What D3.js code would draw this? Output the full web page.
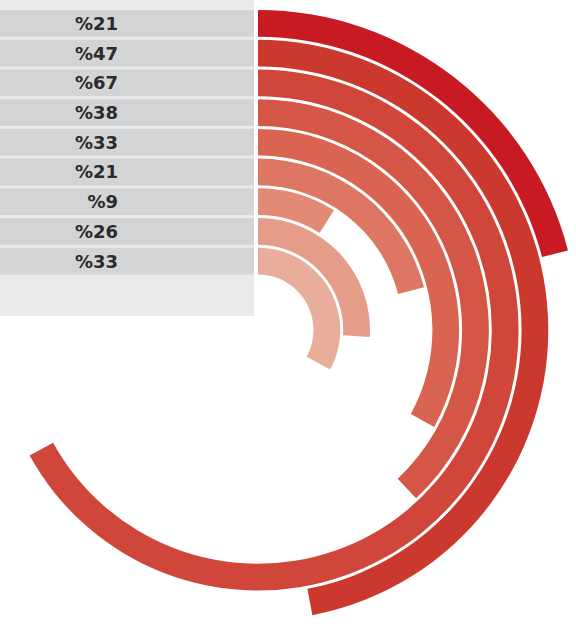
<!DOCTYPE html>
<html>
<head>
<meta charset="utf-8">
<script src="https://cdn.jsdelivr.net/npm/d3@7"></script>
<style>
  body { margin: 0; background: #fff; }
</style>
</head>
<body>
<div id="chart"></div>
<script>
// values, outer ring first
var values = [21, 47, 67, 38, 33, 21, 9, 26, 33];
var labels = ["%21", "%47", "%67", "%38", "%33", "%21", "%9", "%26", "%33"];
var colors = ["#c81a22", "#cb392e", "#d0463a", "#d45646", "#d96452", "#dd7662", "#e28a76", "#e59c89", "#e9ae9b"];

var width = 576;
var height = 631;
var cx = 258;
var cy = 330;

var svg = d3.select('#chart')
    .append('svg')
    .attr('width', width)
    .attr('height', height);

var idx = d3.range(values.length);

// rings, outer to inner
var r = d3.scaleBand()
    .domain(idx)
    .range([320, 55.5])
    .paddingInner(0.1)
    .paddingOuter(0);

var angle = d3.scaleLinear()
    .domain([0, 100])
    .range([0, 2 * Math.PI]);

// grey label panel
svg.append('rect')
    .attr('x', 0).attr('y', 0)
    .attr('width', 254).attr('height', 316)
    .attr('fill', '#e9eae9');

svg.selectAll('rect.row')
    .data(idx)
    .enter()
    .append('rect')
    .attr('class', 'row')
    .attr('x', 0)
    .attr('y', d => cy - r(d) - r.bandwidth())
    .attr('width', 254)
    .attr('height', r.bandwidth())
    .attr('fill', '#d3d4d5');

svg.selectAll('text.lab')
    .data(idx)
    .enter()
    .append('text')
    .attr('class', 'lab')
    .attr('x', 118)
    .attr('y', d => cy - r(d) - r.bandwidth() / 2)
    .attr('dy', '0.36em')
    .attr('text-anchor', 'end')
    .attr('font-family', 'DejaVu Sans')
    .attr('font-weight', 'bold')
    .attr('font-size', '18px')
    .attr('fill', '#2b2b2b')
    .text(d => labels[d]);

var arc = d3.arc()
    .innerRadius(d => r(d))
    .outerRadius(d => r(d) + r.bandwidth())
    .startAngle(0)
    .endAngle(d => angle(values[d]));

svg.append('g')
    .attr('transform', `translate(${cx}, ${cy})`)
    .selectAll('path')
    .data(idx)
    .enter()
    .append('path')
    .attr('d', arc)
    .attr('fill', d => colors[d]);
</script>
</body>
</html>
